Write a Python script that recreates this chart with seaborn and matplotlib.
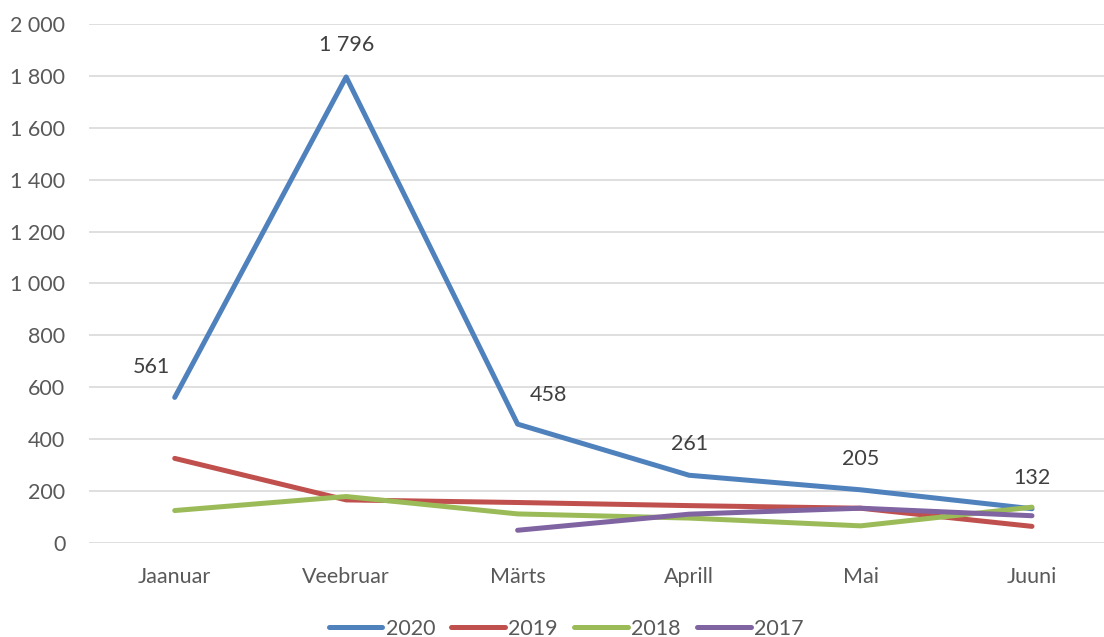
import matplotlib
matplotlib.use("Agg")
import matplotlib.pyplot as plt
import numpy as np
import pandas as pd
import seaborn as sns
from matplotlib.ticker import FuncFormatter, MultipleLocator

months = ["Jaanuar", "Veebruar", "Märts", "Aprill", "Mai", "Juuni"]
years = ["2020", "2019", "2018", "2017"]
v2020 = [561, 1796, 458, 261, 205, 132]
v2019 = [326, 166, 156, 144, 134, 64]
v2018 = [125, 179, 112, 96, 66, 138]
v2017 = [np.nan, np.nan, 49, 111, 134, 105]

# label offsets (pixels) for the 2020 data labels
label_offsets = [(-23, 30), (0, 32), (31, 29), (0, 31), (0, 31), (0, 31)]

colors = {"2020": "#4F81BD", "2019": "#C0504D", "2018": "#9BBB59", "2017": "#8064A2"}

frames = []
for yr, vals in zip(years, [v2020, v2019, v2018, v2017]):
    frames.append(pd.DataFrame({"month": months, "value": vals, "year": yr}))
df = pd.concat(frames, ignore_index=True).dropna()

sns.set_theme(style="white")
plt.rcParams["font.family"] = ["Lato", "DejaVu Sans"]
FS = 15.5

fig = plt.figure(figsize=(11.04, 6.37), dpi=100)
ax = fig.add_axes([0.0806, 0.1476, 0.9194, 0.8147])

sns.lineplot(data=df, x="month", y="value", hue="year", hue_order=years,
             palette=colors, linewidth=3.6, sort=False, ax=ax,
             solid_capstyle="round")

ax.set_xlim(-0.5, 5.42)
ax.set_ylim(0, 2000)
ax.yaxis.set_major_locator(MultipleLocator(200))
ax.yaxis.set_major_formatter(FuncFormatter(lambda v, p: f"{v:,.0f}".replace(",", " ")))
ax.grid(axis="y", color="#D9D9D9", linewidth=1.2)
ax.set_axisbelow(True)
for s in ax.spines.values():
    s.set_visible(False)
ax.tick_params(axis="both", length=0, labelsize=FS, labelcolor="#595959")
ax.tick_params(axis="y", pad=17)
ax.tick_params(axis="x", pad=17)
ax.set_xlabel("")
ax.set_ylabel("")

for i, (v, off) in enumerate(zip(v2020, label_offsets)):
    ax.annotate(f"{v:,.0f}".replace(",", " "), (i, v), xytext=off,
                textcoords="offset pixels", ha="center", va="center",
                fontsize=FS, color="#404040")

sns.move_legend(ax, "center", bbox_to_anchor=(0.47, -0.165), ncol=4,
                frameon=False, title=None, fontsize=FS,
                handlelength=2.5, handletextpad=0.15, columnspacing=0.75)
for line in ax.get_legend().get_lines():
    line.set_linewidth(3.6)
    line.set_solid_capstyle("round")
for t in ax.get_legend().get_texts():
    t.set_color("#595959")

fig.savefig("out.png", dpi=100)
